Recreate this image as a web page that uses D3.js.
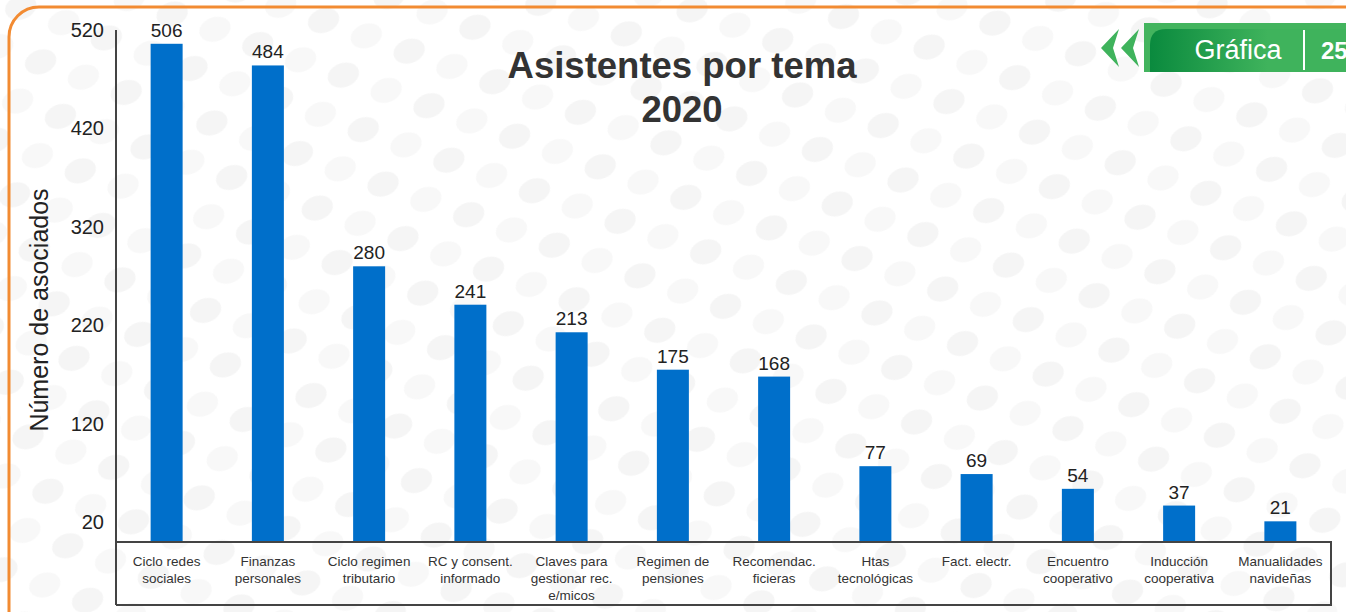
<!DOCTYPE html>
<html>
<head>
<meta charset="utf-8">
<script src="https://cdn.jsdelivr.net/npm/d3@7"></script>
<style>
  body { margin: 0; background: #fff; }
  svg { display: block; font-family: "Liberation Sans", Arial, sans-serif; }
</style>
</head>
<body>
<svg id="chart" width="1346" height="612"></svg>
<script>
const categories = [
  ["Ciclo redes", "sociales"],
  ["Finanzas", "personales"],
  ["Ciclo regimen", "tributario"],
  ["RC y consent.", "informado"],
  ["Claves para", "gestionar rec.", "e/micos"],
  ["Regimen de", "pensiones"],
  ["Recomendac.", "ficieras"],
  ["Htas", "tecnológicas"],
  ["Fact. electr."],
  ["Encuentro", "cooperativo"],
  ["Inducción", "cooperativa"],
  ["Manualidades", "navideñas"]
]
const values = [506, 484, 280, 241, 213, 175, 168, 77, 69, 54, 37, 21]
const yTicks = [20, 120, 220, 320, 420, 520]

const width = 1346, height = 612
const svg = d3.select("#chart")

// background dots (faint)
const defs = svg.append("defs")
const pat = defs.append("pattern")
  .attr("id", "dots")
  .attr("width", 70).attr("height", 58)
  .attr("patternUnits", "userSpaceOnUse")
  .attr("patternTransform", "rotate(-20)")
pat.append("ellipse").attr("cx", 17).attr("cy", 14).attr("rx", 16).attr("ry", 12).attr("fill", "#f5f5f5")
pat.append("ellipse").attr("cx", 52).attr("cy", 43).attr("rx", 16).attr("ry", 12).attr("fill", "#f8f8f8")
svg.append("rect").attr("width", width).attr("height", height).attr("fill", "url(#dots)")

// orange frame
svg.append("rect")
  .attr("x", 9).attr("y", 7)
  .attr("width", 1400).attr("height", 660)
  .attr("rx", 30)
  .attr("fill", "none")
  .attr("stroke", "#f28b32")
  .attr("stroke-width", 3)

// define margins
const margin = {top: 30, right: 15, bottom: 70, left: 116}
const baseY = 542

const x = d3.scaleBand()
  .domain(d3.range(categories.length))
  .range([margin.left, width - margin.right])

const y = d3.scaleLinear()
  .domain([0, 520])
  .range([baseY, margin.top])

const barW = 32

// bars
svg.selectAll(".bar")
  .data(values)
  .enter()
  .append("rect")
    .attr("class", "bar")
    .attr("x", (d, i) => x(i) + x.bandwidth() / 2 - barW / 2)
    .attr("y", d => y(d))
    .attr("width", barW)
    .attr("height", d => baseY - y(d))
    .attr("fill", "#006fca")

// value labels
svg.selectAll(".val")
  .data(values)
  .enter()
  .append("text")
    .attr("x", (d, i) => x(i) + x.bandwidth() / 2)
    .attr("y", d => y(d) - 7)
    .attr("text-anchor", "middle")
    .attr("font-size", 19)
    .attr("fill", "#222")
    .text(d => d)

// y axis
const yAxis = svg.append("g")
  .attr("transform", "translate(" + margin.left + ",0)")
  .call(d3.axisLeft(y).tickValues(yTicks).tickSize(0).tickPadding(12))
yAxis.select(".domain").attr("stroke", "#444").attr("stroke-width", 2)
  .attr("d", "M0," + y(520) + "V" + 605)
yAxis.selectAll("text")
  .attr("font-size", 20)
  .attr("fill", "#222")
  .attr("font-family", "Liberation Sans, Arial, sans-serif")

// category box
const boxR = width - margin.right
svg.append("path")
  .attr("d", `M${margin.left},${baseY}H${boxR}V605H${margin.left}`)
  .attr("fill", "none")
  .attr("stroke", "#444")
  .attr("stroke-width", 2)

// category labels
const catG = svg.selectAll(".cat")
  .data(categories)
  .enter()
  .append("text")
    .attr("text-anchor", "middle")
    .attr("font-size", 13.5)
    .attr("fill", "#333")
catG.selectAll("tspan")
  .data((d, i) => d.map(t => ({t, i})))
  .enter()
  .append("tspan")
    .attr("x", d => x(d.i) + x.bandwidth() / 2)
    .attr("y", (d, j) => 566 + j * 17)
    .text(d => d.t)

// y axis title
svg.append("text")
  .attr("transform", "translate(48,310)rotate(-90)")
  .attr("text-anchor", "middle")
  .attr("font-size", 25)
  .attr("fill", "#222")
  .text("Número de asociados")

// chart title
svg.append("text")
  .attr("x", 682).attr("y", 78)
  .attr("text-anchor", "middle")
  .attr("font-size", 36.5)
  .attr("font-weight", "bold")
  .attr("fill", "#333")
  .text("Asistentes por tema")
svg.append("text")
  .attr("x", 682).attr("y", 122)
  .attr("text-anchor", "middle")
  .attr("font-size", 36.5)
  .attr("font-weight", "bold")
  .attr("fill", "#333")
  .text("2020")

// badge
const grad = defs.append("linearGradient").attr("id", "badgeGrad")
grad.append("stop").attr("offset", "0%").attr("stop-color", "#0a8a3e")
grad.append("stop").attr("offset", "60%").attr("stop-color", "#3fb35c")
svg.append("rect")
  .attr("x", 1144).attr("y", 23).attr("width", 210).attr("height", 49)
  .attr("fill", "#43b45e")
svg.append("path")
  .attr("d", "M1150,72V45Q1150,29 1166,29H1346V72Z")
  .attr("fill", "url(#badgeGrad)")
svg.append("path")
  .attr("d", "M1119,29L1101,48L1119,67L1113,48Z M1139,29L1121,48L1139,67L1133,48Z")
  .attr("fill", "#3fb35c")
svg.append("text")
  .attr("x", 1238).attr("y", 59)
  .attr("text-anchor", "middle")
  .attr("font-size", 27)
  .attr("fill", "#fff")
  .text("Gráfica")
svg.append("line")
  .attr("x1", 1304).attr("x2", 1304).attr("y1", 30).attr("y2", 70)
  .attr("stroke", "#fff").attr("stroke-width", 2)
svg.append("text")
  .attr("x", 1321).attr("y", 59)
  .attr("font-size", 24)
  .attr("font-weight", "bold")
  .attr("fill", "#fff")
  .text("25")
</script>
</body>
</html>
